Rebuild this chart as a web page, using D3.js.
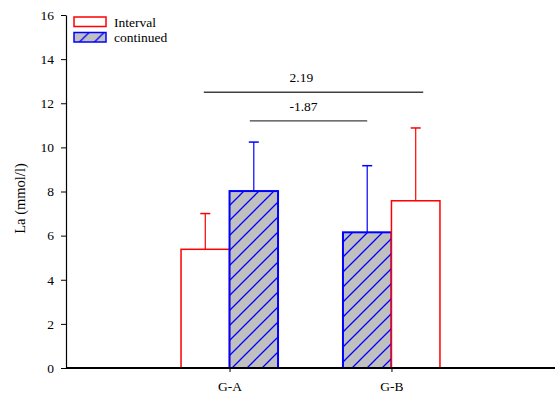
<!DOCTYPE html>
<html>
<head>
<meta charset="utf-8">
<script src="https://cdn.jsdelivr.net/npm/d3@7/dist/d3.min.js"></script>
<style>
  body { margin: 0; background: #fff; }
  svg { display: block; }
  svg text { font-family: "Liberation Serif", "Times New Roman", Times, serif !important; }
</style>
</head>
<body>
<svg id="chart" width="555" height="394"></svg>
<script>
// ---- data ----
const categories = ["G-A", "G-B"];
const seriesNames = ["Interval", "continued"];
const intervalMean = [5.38, 7.58];
const intervalSD = [1.62, 3.30];
const continuedMean = [8.02, 6.15];
const continuedSD = [2.22, 3.02];
// bar order within each category (left to right)
const barOrder = [["Interval", "continued"], ["continued", "Interval"]];
const yTicks = [0, 2, 4, 6, 8, 10, 12, 14, 16];
const annotations = [
  { label: "2.19", series: "Interval", value: 12.5 },
  { label: "-1.87", series: "continued", value: 11.2 }
];
const yLabel = "La (mmol/l)";

(function () {
// ---- layout ----
const svg = d3.select("#chart");
const mLeft = 66, mRight = 555, mTop = 15, mBottom = 368;
const barW = 48.5;
const FONT = "'Liberation Serif', 'Times New Roman', Times, serif";

const x = d3.scalePoint().domain(categories).range([mLeft, mRight]).padding(1.01);
const y = d3.scaleLinear().domain([0, 16]).range([mBottom, mTop]);

const means = { "Interval": intervalMean, "continued": continuedMean };
const sds = { "Interval": intervalSD, "continued": continuedSD };
const strokeCol = { "Interval": "#ff0000", "continued": "#0000ff" };

// hatch pattern
const defs = svg.append("defs");
const pat = defs.append("pattern")
  .attr("id", "hatch").attr("patternUnits", "userSpaceOnUse")
  .attr("width", 15).attr("height", 15);
pat.append("rect").attr("width", 15).attr("height", 15).attr("fill", "#c0c0c0");
pat.append("path")
  .attr("d", "M-2,17 L17,-2 M-5,5 L5,-5 M10,20 L20,10")
  .attr("stroke", "#0000ff").attr("stroke-width", 1.3);

const fillOf = s => s === "Interval" ? "#ffffff" : "url(#hatch)";

const bars = [];
categories.forEach((c, i) => {
  barOrder[i].forEach((s, j) => {
    const x0 = x(c) + (j === 0 ? -barW : 0);
    bars.push({ cat: c, series: s, x0, mean: means[s][i], sd: sds[s][i] });
  });
});

// bars
svg.append("g").selectAll("rect").data(bars).join("rect")
  .attr("x", d => d.x0).attr("width", barW)
  .attr("y", d => y(d.mean)).attr("height", d => y(0) - y(d.mean))
  .attr("fill", d => fillOf(d.series))
  .attr("stroke", d => strokeCol[d.series])
  .attr("stroke-width", d => d.series === "Interval" ? 1.5 : 2);

// error bars
const eb = svg.append("g").selectAll("g").data(bars).join("g");
eb.append("line")
  .attr("x1", d => d.x0 + barW / 2).attr("x2", d => d.x0 + barW / 2)
  .attr("y1", d => y(d.mean)).attr("y2", d => y(d.mean + d.sd))
  .attr("stroke", d => strokeCol[d.series]).attr("stroke-width", 1.2);
eb.append("line")
  .attr("x1", d => d.x0 + barW / 2 - 5).attr("x2", d => d.x0 + barW / 2 + 5)
  .attr("y1", d => y(d.mean + d.sd)).attr("y2", d => y(d.mean + d.sd))
  .attr("stroke", d => strokeCol[d.series]).attr("stroke-width", 1.5);

// annotations
const centerOf = (s, c) => bars.find(b => b.series === s && b.cat === c).x0 + barW / 2;
const ext = { "Interval": [-1.5, 7.5], "continued": [-4, 0] };
const midX = (x(categories[0]) + x(categories[1])) / 2;
const ann = svg.append("g").selectAll("g").data(annotations).join("g");
ann.append("line")
  .attr("x1", d => centerOf(d.series, categories[0]) + ext[d.series][0])
  .attr("x2", d => centerOf(d.series, categories[1]) + ext[d.series][1])
  .attr("y1", d => y(d.value)).attr("y2", d => y(d.value))
  .attr("stroke", "#404040").attr("stroke-width", 1.4);
ann.append("text")
  .attr("x", midX - 21).attr("y", d => y(d.value) - 10)
  .attr("font-size", 13.5).attr("fill", "#000")
  .style("font-family", FONT)
  .text(d => d.label);

// y axis
const yAxis = svg.append("g").attr("transform", `translate(${mLeft},0)`)
  .call(d3.axisLeft(y).tickValues(yTicks).tickSize(5).tickSizeOuter(0).tickPadding(7).tickFormat(d3.format("d")));
yAxis.attr("font-family", null).attr("font-size", null);
yAxis.selectAll("text").attr("font-size", 13.5).style("font-family", FONT).attr("fill", "#000");
yAxis.selectAll("line").attr("stroke", "#000");
yAxis.select(".domain").attr("stroke", "#000").attr("stroke-width", 1.2);

// x axis
const xAxis = svg.append("g").attr("transform", `translate(0,${mBottom})`)
  .call(d3.axisBottom(x).tickSize(4).tickSizeOuter(0));
xAxis.attr("font-family", null).attr("font-size", null);
xAxis.select(".domain").attr("stroke", "#000").attr("stroke-width", 2.2)
  .attr("d", `M${mLeft},0H${mRight}`);
xAxis.selectAll("line").attr("stroke", "#000");
xAxis.selectAll("text").attr("y", 23).attr("dy", 0)
  .attr("font-size", 13.5).style("font-family", FONT).attr("fill", "#000");

// y label
svg.append("text")
  .attr("transform", `translate(25,${(mTop + mBottom) / 2 + 7}) rotate(-90)`)
  .attr("text-anchor", "middle").attr("font-size", 14.5)
  .style("font-family", FONT)
  .text(yLabel);

// legend
const leg = svg.append("g").selectAll("g").data(seriesNames).join("g")
  .attr("transform", (d, i) => `translate(74,${17 + i * 15.5})`);
leg.append("rect").attr("width", 32).attr("height", 9.5)
  .attr("fill", d => fillOf(d)).attr("stroke", d => strokeCol[d]).attr("stroke-width", 1.5);
leg.append("text").attr("x", 40).attr("y", 9.5).attr("font-size", 13.5)
  .style("font-family", FONT).text(d => d);
})();
</script>
</body>
</html>
